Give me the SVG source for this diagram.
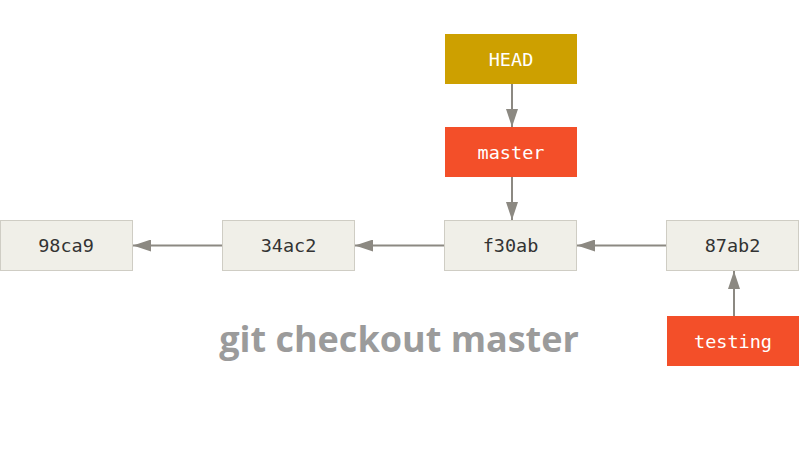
<svg xmlns="http://www.w3.org/2000/svg" width="800" height="460" viewBox="0 0 800 460">
<style>
.commit{fill:#f0efe8;stroke:#cfcdc4;stroke-width:1}
.branch{fill:#f34f29}
.head{fill:#cda000}
.t{font-family:"DejaVu Sans Mono",monospace;font-size:18.5px;text-anchor:middle;dominant-baseline:central}
.dark{fill:#333333}
.light{fill:#ffffff}
.conn{stroke:#8c8982;stroke-width:2;fill:none;marker-end:url(#ah)}
.title{font-family:"Open Sans","Liberation Sans",sans-serif;font-weight:bold;font-size:36px;fill:#9b9b9b;text-anchor:middle}
</style>
<defs>
<marker id="ah" viewBox="0 0 18 12" refX="18" refY="6" markerWidth="18" markerHeight="12" markerUnits="userSpaceOnUse" orient="auto">
<path d="M0,0 L18,6 L0,12 z" fill="#8c8982"/>
</marker>
</defs>
<rect width="800" height="460" fill="#ffffff"/>
<g id="connectors">
<line class="conn" x1="222" y1="245.5" x2="133" y2="245.5"/>
<line class="conn" x1="444" y1="245.5" x2="355" y2="245.5"/>
<line class="conn" x1="666" y1="245.5" x2="577" y2="245.5"/>
<line class="conn" x1="512" y1="84" x2="512" y2="127"/>
<line class="conn" x1="512" y1="177" x2="512" y2="220"/>
<line class="conn" x1="734" y1="316" x2="734" y2="271"/>
</g>
<g id="c98ca9"><rect class="commit" x="0.5" y="220.5" width="132" height="50"/><text class="t dark" x="66" y="245.5">98ca9</text></g>
<g id="c34ac2"><rect class="commit" x="222.5" y="220.5" width="132" height="50"/><text class="t dark" x="288.5" y="245.5">34ac2</text></g>
<g id="cf30ab"><rect class="commit" x="444.5" y="220.5" width="132" height="50"/><text class="t dark" x="510.5" y="245.5">f30ab</text></g>
<g id="c87ab2"><rect class="commit" x="666.5" y="220.5" width="132" height="50"/><text class="t dark" x="732.5" y="245.5">87ab2</text></g>
<g id="head"><rect class="head" x="445" y="34" width="132" height="50"/><text class="t light" x="511" y="59">HEAD</text></g>
<g id="master"><rect class="branch" x="445" y="127" width="132" height="50"/><text class="t light" x="511" y="152">master</text></g>
<g id="testing"><rect class="branch" x="667" y="316" width="132" height="50"/><text class="t light" x="733" y="341">testing</text></g>
<text class="title" x="399" y="352">git checkout master</text>
</svg>
